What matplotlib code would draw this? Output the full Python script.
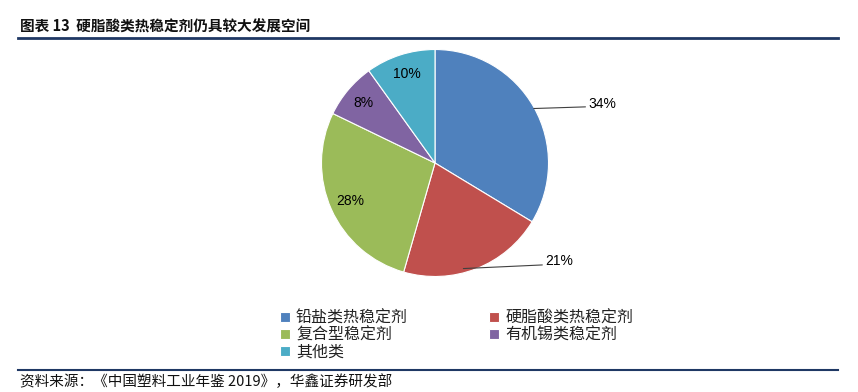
import matplotlib.pyplot as plt
from matplotlib.lines import Line2D

plt.rcParams['font.family'] = ['Noto Sans CJK SC', 'DejaVu Sans']

labels = ['铅盐类热稳定剂', '硬脂酸类热稳定剂', '复合型稳定剂', '有机锡类稳定剂', '其他类']
shares = [34, 21, 28, 8, 10]
colors = ['#4F81BD', '#C0504D', '#9BBB59', '#8064A2', '#4BACC6']

W, H = 858, 392
fig = plt.figure(figsize=(W / 100, H / 100), dpi=100)

# pie axes: centre (435,163) px, radius ~113.5 px
cx, cy, r = 435, 163, 113.5
ax = fig.add_axes([(cx - r) / W, (H - cy - r) / H, 2 * r / W, 2 * r / H])
wedges, texts, autotexts = ax.pie(
    shares, colors=colors, startangle=90, counterclock=False, radius=1,
    autopct=lambda p: '', pctdistance=0.82,
    wedgeprops=dict(edgecolor='white', linewidth=0.8))
ax.set_xlim(-1, 1)
ax.set_ylim(-1, 1)
ax.set_aspect('equal')
ax.axis('off')

# inside labels for small/left slices, outside with leader lines for the right ones
for i, (t, v) in enumerate(zip(autotexts, shares)):
    if i in (2, 3, 4):
        t.set_text(f'{v}%')
        t.set_fontsize(10)
        t.set_family(['Liberation Sans', 'DejaVu Sans'])
        t.set_color('black')

lab_font = dict(fontsize=10, family=['Liberation Sans', 'DejaVu Sans'], color='black')
ax.annotate(f'{shares[0]}%', xy=(0.87, 0.48), xytext=(1.35, 0.52), ha='left', va='center',
            arrowprops=dict(arrowstyle='-', color='#404040', lw=0.8, shrinkA=0, shrinkB=0,
                            relpos=(0, 0.3)), **lab_font, annotation_clip=False)
ax.annotate(f'{shares[1]}%', xy=(0.25, -0.93), xytext=(0.97, -0.86), ha='left', va='center',
            arrowprops=dict(arrowstyle='-', color='#404040', lw=0.8, shrinkA=0, shrinkB=0,
                            relpos=(0, 0.2)), **lab_font, annotation_clip=False)

# legend, reordered so it reads row by row in two columns
order = [0, 2, 4, 1, 3]
fig.legend([wedges[i] for i in order], [labels[i] for i in order],
           loc='upper left', bbox_to_anchor=(272 / W, 1 - 302 / H), ncol=2,
           frameon=False, fontsize=11.5, handlelength=0.6, handleheight=0.6,
           handletextpad=0.4, columnspacing=5.1, labelspacing=0.0, borderpad=0,
           labelcolor='#222222')

# title and rules
fig.text(20 / W, 1 - 27 / H, '图表 13  硬脂酸类热稳定剂仍具较大发展空间', fontsize=10.5,
         fontweight='bold', ha='left', va='center', color='#111111')
fig.add_artist(Line2D([18 / W, 838 / W], [1 - 38 / H, 1 - 38 / H], color='#1F3864', lw=2))
fig.add_artist(Line2D([18 / W, 838 / W], [1 - 370 / H, 1 - 370 / H], color='#1F3864', lw=1.5))
fig.text(20 / W, 1 - 382 / H, '资料来源：《中国塑料工业年鉴 2019》，华鑫证券研发部', fontsize=10.5,
         ha='left', va='center', color='#111111')

fig.savefig('out.png', dpi=100)
